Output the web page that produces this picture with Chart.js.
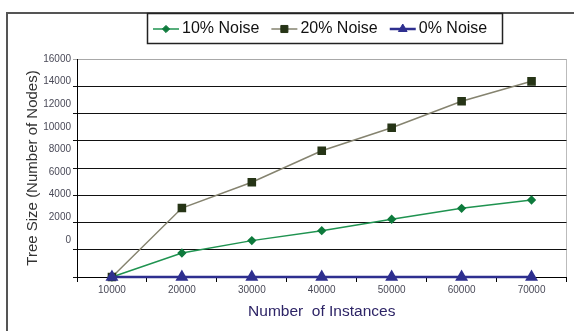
<!DOCTYPE html>
<html>
<head>
<meta charset="utf-8">
<script src="https://cdn.jsdelivr.net/npm/chart.js@4/dist/chart.umd.min.js"></script>
<style>
  html, body { margin: 0; padding: 0; background: #fff; }
  #wrap { width: 574px; height: 331px; position: relative; }
</style>
</head>
<body>
<div id="wrap"><canvas id="c" width="574" height="331"></canvas></div>
<script>
// Training-set sizes on the x axis
const instances = ['10000', '20000', '30000', '40000', '50000', '60000', '70000'];

// Tree size (number of nodes) per noise level
const noise10 = [0, 1760, 2670, 3400, 4240, 5040, 5650];
const noise20 = [0, 5060, 6950, 9270, 10960, 12900, 14360];
const noise0  = [0, 0, 0, 0, 0, 0, 0];

// Printed y-axis labels
const yTickLabels = [0, 2000, 4000, 6000, 8000, 10000, 12000, 14000, 16000];

const seriesNames = ['10% Noise', '20% Noise', '0% Noise'];

const GREEN = '#1f9350', GREEN_DARK = '#0e7a3c';
const OLIVE_LINE = '#85836f', OLIVE_DARK = '#263416';
const NAVY = '#2e2f8f';

// Outer frame and plot-area right border
const framePlugin = {
  id: 'frame',
  beforeDraw(chart) {
    const ctx = chart.ctx;
    const a = chart.chartArea;
    ctx.save();
    ctx.strokeStyle = '#555';
    ctx.lineWidth = 2;
    ctx.beginPath();
    ctx.moveTo(7, 331);
    ctx.lineTo(7, 13);
    ctx.lineTo(574, 13);
    ctx.stroke();
    ctx.strokeStyle = '#bbb';
    ctx.lineWidth = 1;
    ctx.beginPath();
    ctx.moveTo(Math.round(a.right) - 0.5, a.top);
    ctx.lineTo(Math.round(a.right) - 0.5, a.bottom);
    ctx.stroke();
    ctx.restore();
  }
};

function drawMarker(ctx, style, r, x, y) {
  if (style === 'rectRot') {
    ctx.moveTo(x, y - r); ctx.lineTo(x + r, y); ctx.lineTo(x, y + r); ctx.lineTo(x - r, y); ctx.closePath();
  } else if (style === 'rect') {
    const s = r * Math.SQRT1_2;
    ctx.rect(x - s, y - s, 2 * s, 2 * s);
  } else {
    const w = r * Math.sqrt(3);
    ctx.moveTo(x, y - r); ctx.lineTo(x + w / 2, y + r / 2); ctx.lineTo(x - w / 2, y + r / 2); ctx.closePath();
  }
}

// Boxed legend: a short line with the series marker, then its name
const boxLegendPlugin = {
  id: 'boxLegend',
  afterDraw(chart) {
    const ctx = chart.ctx;
    const box = { x: 147, y: 13, w: 355, h: 30 };
    ctx.save();
    ctx.fillStyle = '#fff';
    ctx.fillRect(box.x, box.y, box.w, box.h);
    ctx.strokeStyle = '#222';
    ctx.lineWidth = 1.5;
    ctx.strokeRect(box.x + 0.5, box.y + 0.5, box.w, box.h);
    ctx.font = '16px "Liberation Sans", Arial, sans-serif';
    ctx.textBaseline = 'middle';
    const cy = box.y + 16;
    let x = box.x + 6;
    chart.data.datasets.forEach((ds) => {
      const segLen = 26;
      ctx.strokeStyle = ds.borderColor;
      ctx.lineWidth = ds.borderWidth;
      ctx.beginPath();
      ctx.moveTo(x, cy);
      ctx.lineTo(x + segLen, cy);
      ctx.stroke();
      ctx.fillStyle = ds.pointBackgroundColor;
      ctx.strokeStyle = ds.pointBorderColor;
      ctx.lineWidth = 1;
      ctx.beginPath();
      drawMarker(ctx, ds.pointStyle, ds.pointRadius, x + segLen / 2, cy);
      ctx.fill();
      ctx.stroke();
      ctx.fillStyle = '#111';
      ctx.fillText(ds.label, x + segLen + 3, cy);
      x += segLen + 3 + ctx.measureText(ds.label).width + 12;
    });
    ctx.restore();
  }
};

const tickFont = { family: '"Liberation Sans", Arial, sans-serif', size: 10 };
const tickColor = '#4a4a58';

new Chart(document.getElementById('c'), {
  type: 'line',
  data: {
    labels: instances,
    datasets: [
      {
        label: seriesNames[0], data: noise10, order: 2,
        borderColor: GREEN, borderWidth: 1.5,
        pointStyle: 'rectRot', pointRadius: 3.6,
        pointBackgroundColor: GREEN_DARK, pointBorderColor: GREEN_DARK,
        clip: false, tension: 0
      },
      {
        label: seriesNames[1], data: noise20, order: 1,
        borderColor: OLIVE_LINE, borderWidth: 1.5,
        pointStyle: 'rect', pointRadius: 5,
        pointBackgroundColor: OLIVE_DARK, pointBorderColor: OLIVE_DARK,
        clip: false, tension: 0
      },
      {
        label: seriesNames[2], data: noise0, order: 0,
        borderColor: NAVY, borderWidth: 2.5,
        pointStyle: 'triangle', pointRadius: 5,
        pointBackgroundColor: NAVY, pointBorderColor: NAVY,
        clip: false, tension: 0
      }
    ]
  },
  options: {
    responsive: false,
    animation: false,
    devicePixelRatio: 1,
    layout: { padding: { left: 0, top: 59, right: 1, bottom: 0 } },
    plugins: { legend: { display: false }, tooltip: { enabled: false } },
    scales: {
      x: {
        type: 'category',
        offset: true,
        grid: { display: true, drawOnChartArea: false, offset: true, color: '#000', tickLength: 5 },
        border: { color: '#000', width: 1 },
        ticks: { font: tickFont, color: tickColor, padding: 2, maxRotation: 0 },
        title: {
          display: true, text: 'Number  of Instances', color: '#2d2466',
          font: { family: '"Liberation Sans", Arial, sans-serif', size: 15.5 },
          padding: { top: 0, bottom: 10 }
        },
        afterFit(scale) { scale.height = 54; }
      },
      y: {
        position: 'left',
        weight: 0,
        min: 0, max: 16000,
        ticks: { display: false, stepSize: 2000 },
        grid: {
          color: (c) => (c.tick && c.tick.value === 16000 ? '#a8a8a8' : '#111'),
          lineWidth: 1, tickLength: 4
        },
        border: { color: '#000', width: 1 },
        afterFit(scale) { scale.width = 5; }
      },
      yl: {
        position: 'left',
        weight: 10,
        min: -3274, max: 16000,
        grid: { display: false, drawTicks: false },
        border: { display: false },
        afterBuildTicks(scale) { scale.ticks = yTickLabels.map(v => ({ value: v })); },
        ticks: {
          font: tickFont, color: tickColor, padding: 1,
          callback: (v) => String(v)
        },
        title: {
          display: true, text: 'Tree Size (Number of Nodes)', color: '#333',
          font: { family: '"Liberation Sans", Arial, sans-serif', size: 15 },
          padding: { top: 24, bottom: 0 }
        },
        afterFit(scale) { scale.width = 72; }
      }
    }
  },
  plugins: [framePlugin, boxLegendPlugin]
});
</script>
</body>
</html>
